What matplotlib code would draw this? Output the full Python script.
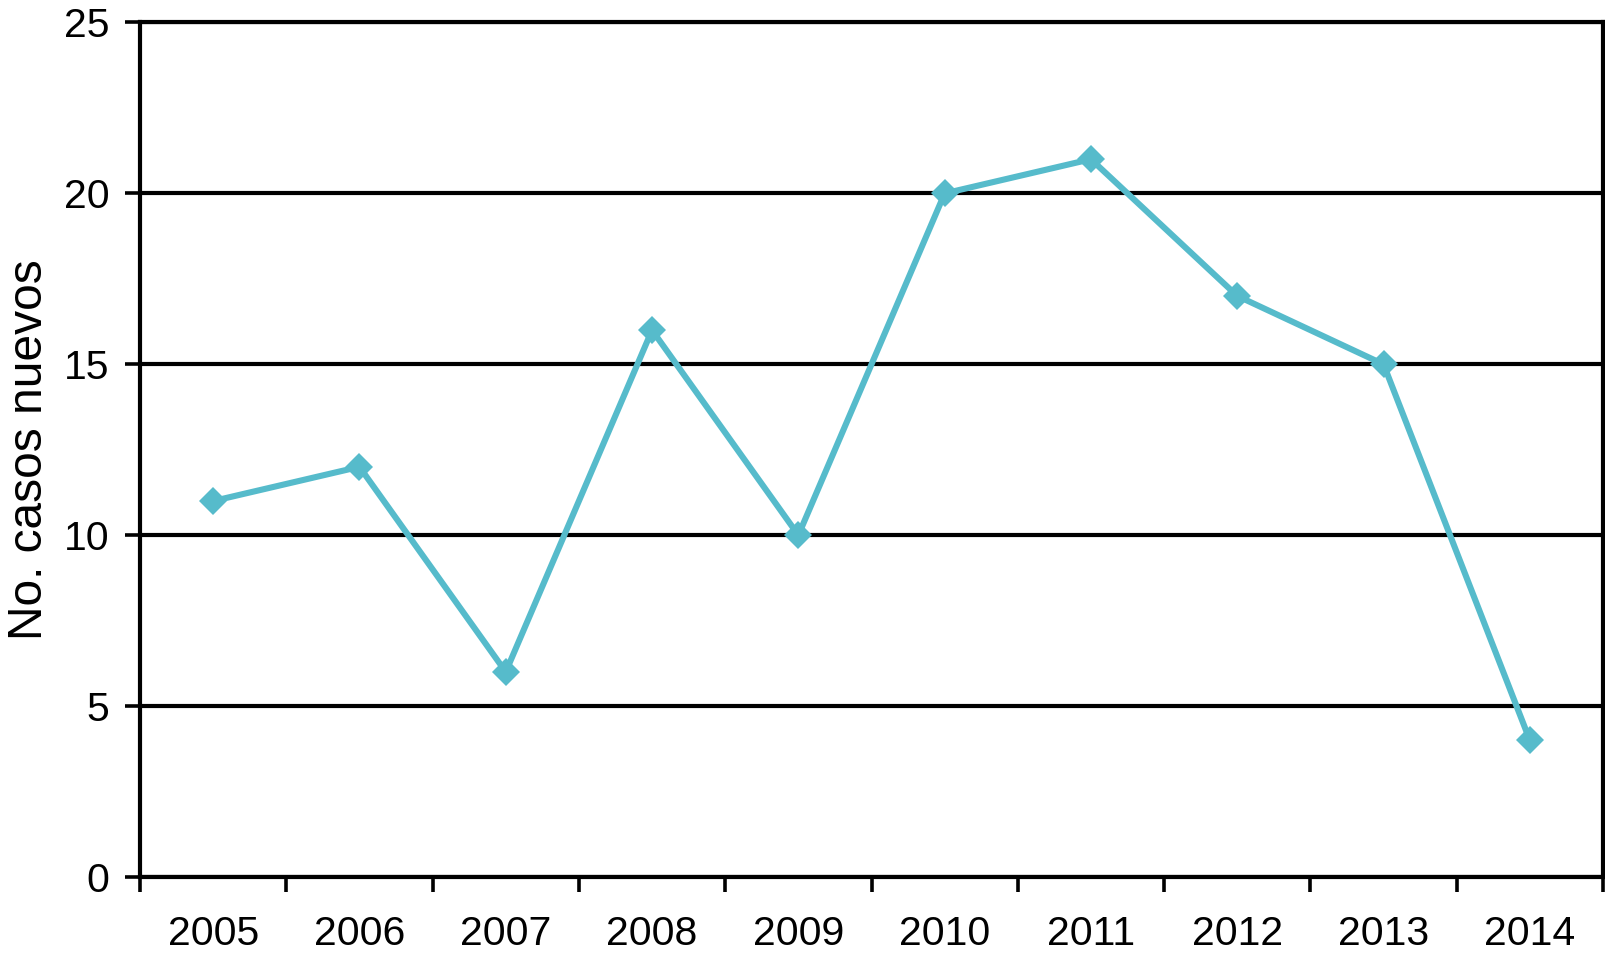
import matplotlib.pyplot as plt
from matplotlib.ticker import FixedLocator

# data
years = ['2005', '2006', '2007', '2008', '2009', '2010', '2011', '2012', '2013', '2014']
cases = [11, 12, 6, 16, 10, 20, 21, 17, 15, 4]
y_ticks = [0, 5, 10, 15, 20, 25]

plt.rcParams['font.family'] = ['Liberation Sans', 'DejaVu Sans']

fig = plt.figure(figsize=(16.05, 9.55), dpi=100)
ax = fig.add_axes([140 / 1605, 1 - 877 / 955, 1463 / 1605, (877 - 22.5) / 955])

x = list(range(len(years)))
ax.plot(x, cases, color='#56bbcb', lw=4.4, marker='D', ms=14,
        markeredgewidth=0, zorder=3, clip_on=False)

ax.set_xlim(-0.5, len(years) - 0.5)
ax.set_ylim(0, 25)

# category boundaries get the tick marks, centres get the labels
ax.xaxis.set_major_locator(FixedLocator([i - 0.5 for i in range(len(years) + 1)]))
ax.xaxis.set_major_formatter(plt.NullFormatter())
ax.xaxis.set_minor_locator(FixedLocator(x))
ax.set_xticklabels(years, minor=True)
ax.tick_params(axis='x', which='major', direction='out', length=10.5, width=2.6)
ax.tick_params(axis='x', which='minor', length=0, pad=27, labelsize=29.5)

ax.set_yticks(y_ticks)
ax.tick_params(axis='y', direction='out', length=11, width=2.6, pad=11, labelsize=29.5)
ax.yaxis.grid(True, color='black', lw=3.0, zorder=1)
ax.set_axisbelow(True)

for s in ax.spines.values():
    s.set_linewidth(3.0)
    s.set_color('black')

ax.set_ylabel('No. casos nuevos', fontsize=34.5)
ax.yaxis.set_label_coords(-0.060, 0.5)

fig.savefig('out.png', dpi=100)
